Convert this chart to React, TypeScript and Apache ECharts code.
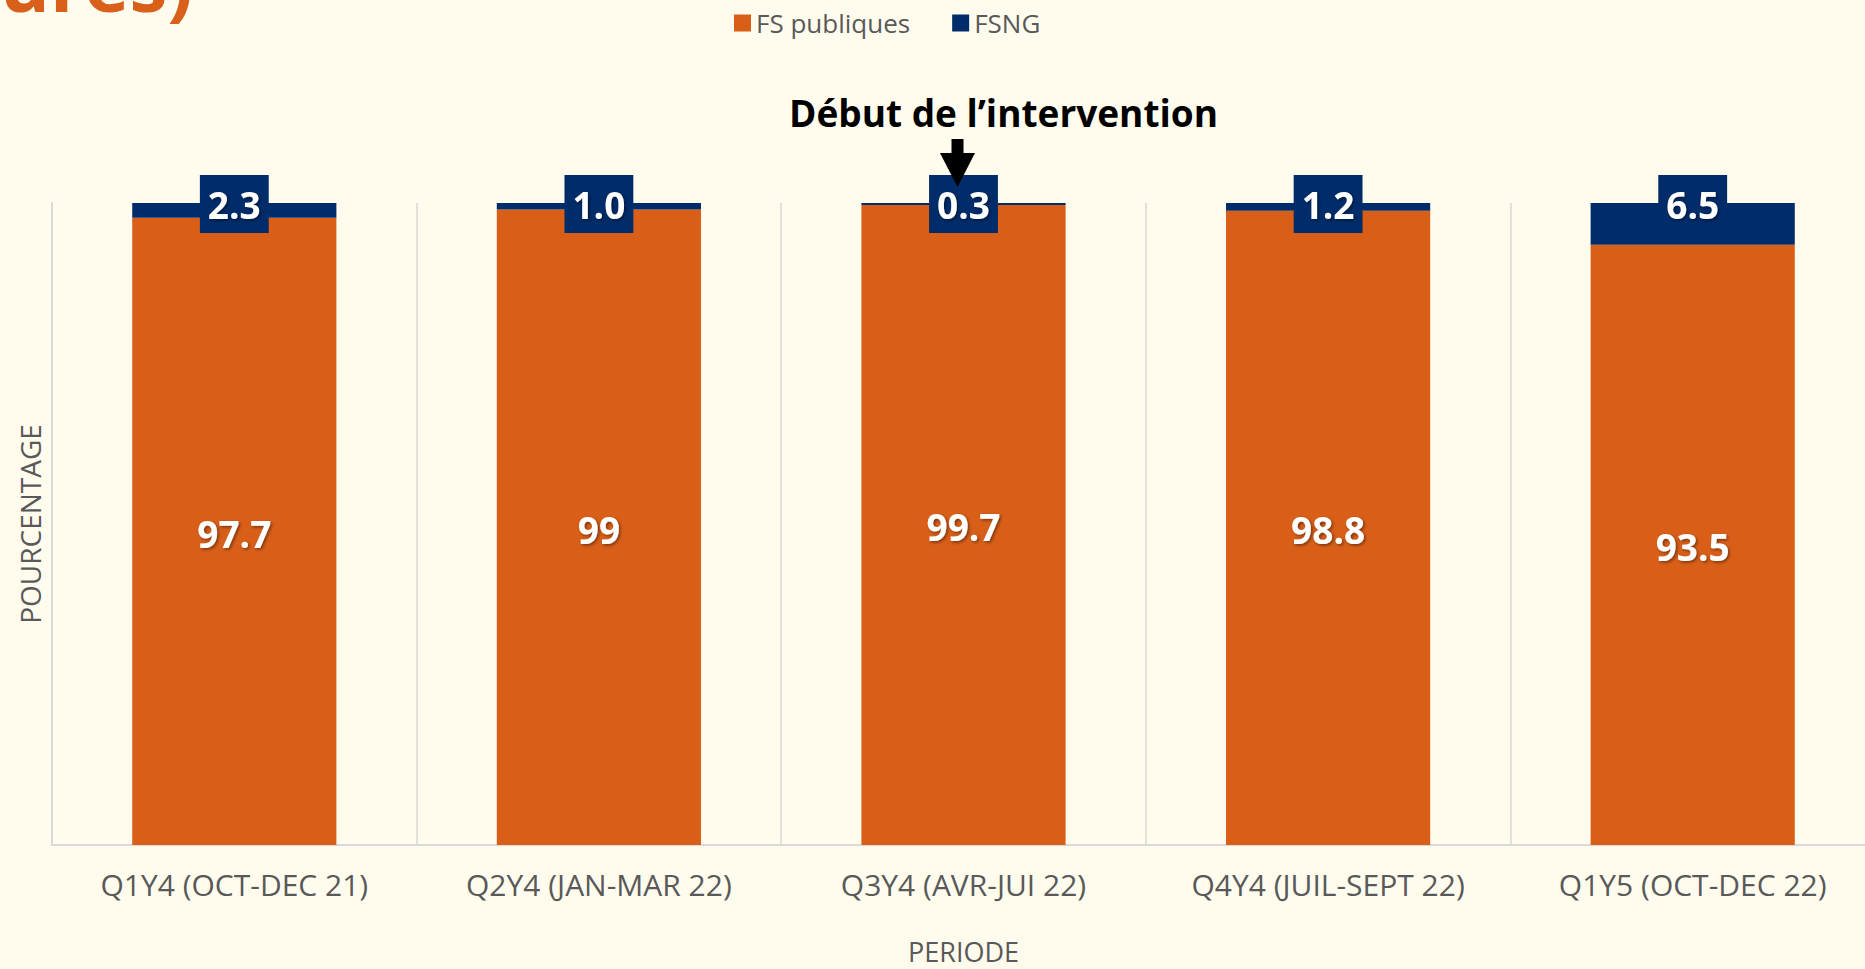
import React, { useEffect, useRef } from 'react';
import * as echarts from 'echarts';

const categories = [
  'Q1Y4 (OCT-DEC 21)',
  'Q2Y4 (JAN-MAR 22)',
  'Q3Y4 (AVR-JUI 22)',
  'Q4Y4 (JUIL-SEPT 22)',
  'Q1Y5 (OCT-DEC 22)',
];
const fsPubliques = [97.7, 99, 99.7, 98.8, 93.5];
const fsng = [2.3, 1.0, 0.3, 1.2, 6.5];
const seriesNames = ['FS publiques', 'FSNG'];
const xAxisName = 'PERIODE';
const yAxisName = 'POURCENTAGE';
const annotationText = 'Début de l’intervention';
const annotationCategory = 'Q3Y4 (AVR-JUI 22)';
const titleFragment = 'ures)';

const ORANGE = '#D95F19';
const NAVY = '#002C6A';
const BG = '#FFFCEE';
const GRAY_TEXT = '#595959';
const GRAY_LINE = '#D9D9D9';
const FONT = '"Open Sans", "Noto Sans", sans-serif';

export default function App() {
  const ref = useRef<HTMLDivElement>(null);

  useEffect(() => {
    if (!ref.current) return;
    const chart = echarts.init(ref.current, null, { renderer: 'svg' });
    const labelShadow = {
      textShadowColor: 'rgba(0,0,0,0.45)',
      textShadowBlur: 3,
      textShadowOffsetX: 1.5,
      textShadowOffsetY: 1.5,
    };
    const titleGraphic = {
      type: 'text',
      z: 50,
      style: {
        text: titleFragment,
        x: 193,
        y: -18,
        align: 'right',
        verticalAlign: 'middle',
        fill: '#D9601A',
        font: 'bold 76px "Open Sans", sans-serif',
      },
    };
    chart.setOption({
      animation: false,
      backgroundColor: BG,
      grid: {
        left: 52,
        top: 203,
        bottom: 124,
        width: 1823,
        containLabel: false,
        outerBoundsMode: 'none',
      },
      legend: {
        data: seriesNames,
        left: 729,
        top: 5,
        icon: 'rect',
        itemWidth: 17,
        itemHeight: 17,
        itemGap: 42,
        textStyle: { fontFamily: FONT, fontSize: 26, color: GRAY_TEXT },
      },
      xAxis: {
        type: 'category',
        data: categories,
        boundaryGap: true,
        name: xAxisName,
        nameLocation: 'middle',
        nameGap: 93,
        nameTextStyle: { fontFamily: FONT, fontSize: 27, color: GRAY_TEXT },
        axisLine: { show: true, lineStyle: { color: GRAY_LINE, width: 2 } },
        axisTick: { show: false },
        axisLabel: { fontFamily: FONT, fontSize: 30, color: GRAY_TEXT, margin: 24, interval: 0 },
        splitLine: { show: true, lineStyle: { color: GRAY_LINE, width: 1.5 } },
      },
      yAxis: {
        type: 'value',
        min: 0,
        max: 100,
        name: yAxisName,
        nameLocation: 'middle',
        nameGap: 8,
        nameTextStyle: { fontFamily: FONT, fontSize: 28, color: GRAY_TEXT },
        axisLine: { show: true, lineStyle: { color: GRAY_LINE, width: 2 } },
        axisTick: { show: false },
        axisLabel: { show: false },
        splitLine: { show: false },
      },
      series: [
        {
          name: seriesNames[0],
          type: 'bar',
          stack: 'total',
          data: fsPubliques,
          barWidth: '56%',
          itemStyle: { color: ORANGE },
          label: {
            show: true,
            position: 'inside',
            offset: [0, 2],
            color: '#FFFFFF',
            fontFamily: FONT,
            fontWeight: 'bold',
            fontSize: 37,
            ...labelShadow,
          },
        },
        {
          name: seriesNames[1],
          type: 'bar',
          stack: 'total',
          data: fsng,
          barWidth: '56%',
          itemStyle: { color: NAVY },
          z: 3,
          label: {
            show: true,
            position: ['50%', 0],
            align: 'center',
            verticalAlign: 'middle',
            offset: [0, 1],
            backgroundColor: NAVY,
            padding: [7, 8],
            lineHeight: 44,
            color: '#FFFFFF',
            fontFamily: FONT,
            fontWeight: 'bold',
            fontSize: 37,
            formatter: (p: any) => Number(p.value).toFixed(1),
            ...labelShadow,
          },
        },
      ],
      graphic: [titleGraphic],
    });

    const cx = chart.convertToPixel({ xAxisIndex: 0 }, annotationCategory) as number;
    const topY = chart.convertToPixel({ yAxisIndex: 0 }, 100) as number;
    const ax = cx - 6;
    chart.setOption(
      {
        graphic: [
          titleGraphic,
          {
            type: 'text',
            z: 60,
            style: {
              text: annotationText,
              x: cx + 40,
              y: topY - 91,
              align: 'center',
              verticalAlign: 'middle',
              fill: '#000000',
              font: 'bold 37px "Open Sans", sans-serif',
            },
          },
          {
            type: 'rect',
            z: 60,
            shape: { x: ax - 6, y: topY - 64, width: 12, height: 15 },
            style: { fill: '#000000' },
          },
          {
            type: 'polygon',
            z: 60,
            shape: {
              points: [
                [ax - 17.5, topY - 50],
                [ax + 17.5, topY - 50],
                [ax, topY - 16],
              ],
            },
            style: { fill: '#000000' },
          },
        ],
      },
      { replaceMerge: ['graphic'] }
    );

    return () => chart.dispose();
  }, []);

  return (
    <div
      ref={ref}
      style={{ position: 'fixed', left: 0, top: 0, width: 1865, height: 969, background: BG }}
    />
  );
}
